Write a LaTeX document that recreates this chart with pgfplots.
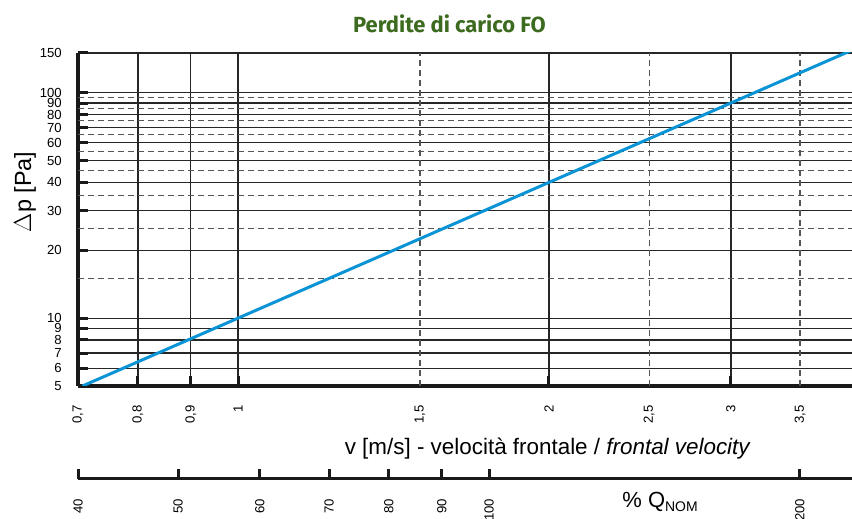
\documentclass[border=0pt]{standalone}
\usepackage{pgfplots}
\pgfplotsset{compat=1.18}
\usepackage{fontspec}
\setmainfont{Liberation Sans}
\newfontfamily\titlefont{Fira Sans}
\definecolor{lineblue}{HTML}{0A94D6}
\definecolor{titlegreen}{HTML}{3C6A1E}
\definecolor{gridgray}{HTML}{555555}

\begin{document}
\begin{tikzpicture}
\path[use as bounding box] (0,0) rectangle (852bp,519bp);

% main chart: pressure drop vs. frontal velocity
\begin{axis}[
    at={(78bp,133bp)}, anchor=south west,
    scale only axis, width=774bp, height=333bp,
    xmode=log, ymode=log,
    xmin=0.7, xmax=3.93, ymin=5, ymax=150,
    axis x line*=bottom, axis y line*=left,
    axis line style={line width=3.5bp, black!90},
    xtick={0.7,0.8,0.9,1,2,3},
    xticklabels={{0,7},{0,8},{0,9},1,2,3},
    extra x ticks={1.5,2.5,3.5},
    extra x tick labels={{1,5},{2,5},{3,5}},
    extra x tick style={major tick length=0pt, grid=major,
        major grid style={gridgray, line width=1.1bp, dash pattern=on 6bp off 4bp}},
    ytick={5,6,7,8,9,10,20,30,40,50,60,70,80,90,100,150},
    yticklabels={5,6,7,8,9,10,20,30,40,50,60,70,80,90,100,150},
    extra y ticks={15,25,35,45,55,65,75,85,95},
    extra y tick style={major tick length=0pt, grid=major, yticklabel={},
        major grid style={gridgray, line width=1.1bp, dash pattern=on 6bp off 4bp}},
    minor xtick={}, minor ytick={},
    grid=major,
    major grid style={line width=1.2bp, black!85},
    tick align=inside, major tick length=10bp,
    tick style={line width=3bp, black!90},
    xticklabel shift=19bp,
    xticklabel style={rotate=90, anchor=east, inner sep=0pt,
        font=\fontsize{13.2}{15}\selectfont},
    yticklabel shift=16bp,
    yticklabel style={anchor=east, inner sep=0pt,
        font=\fontsize{13.2}{15}\selectfont},
    clip mode=individual,
  ]
  \addplot[line width=3bp, color=lineblue] coordinates {
    (0.707,5) (1,10) (1.5,22.5) (2,40) (2.5,62.5) (3,90) (3.5,122.5) (3.93,154.4)
  };
  \node[anchor=base, text=titlegreen, font=\titlefont\bfseries\fontsize{22}{26}\selectfont]
    at (rel axis cs:0.48,1) [yshift=20bp] {Perdite di carico FO};
  \node[xshift=-53bp, rotate=90, font=\fontsize{23.5}{26}\selectfont]
    at (rel axis cs:0,0.583) {$\Delta$p [Pa]};
  \node[anchor=base, font=\fontsize{22.5}{26}\selectfont]
    at (rel axis cs:0.607,0) [yshift=-69bp] {v [m/s] - velocità frontale / \textit{frontal velocity}};
\end{axis}

% secondary scale: percentage of nominal flow
\begin{axis}[
    at={(78bp,40.3bp)}, anchor=south west,
    scale only axis, width=774bp, height=10bp,
    xmode=log, xmin=40, xmax=224.6, ymin=0, ymax=1,
    axis x line*=bottom, axis y line=none,
    axis line style={line width=3.5bp, black!90},
    xtick={40,50,60,70,80,90,100,200},
    xticklabels={40,50,60,70,80,90,100,200},
    minor xtick={},
    tick align=inside, major tick length=10bp,
    tick style={line width=3bp, black!90},
    xticklabel shift=20bp,
    xticklabel style={rotate=90, anchor=east, inner sep=0pt,
        font=\fontsize{13.2}{15}\selectfont},
    clip=false,
  ]
  \addplot[draw=none] coordinates {(40,0) (200,0)};
  \node[anchor=base, font=\fontsize{22}{25}\selectfont]
    at (rel axis cs:0.752,0) [yshift=-29bp] {\%~Q\raisebox{-0.35ex}{\fontsize{14}{14}\selectfont NOM}};
\end{axis}
\end{tikzpicture}
\end{document}
